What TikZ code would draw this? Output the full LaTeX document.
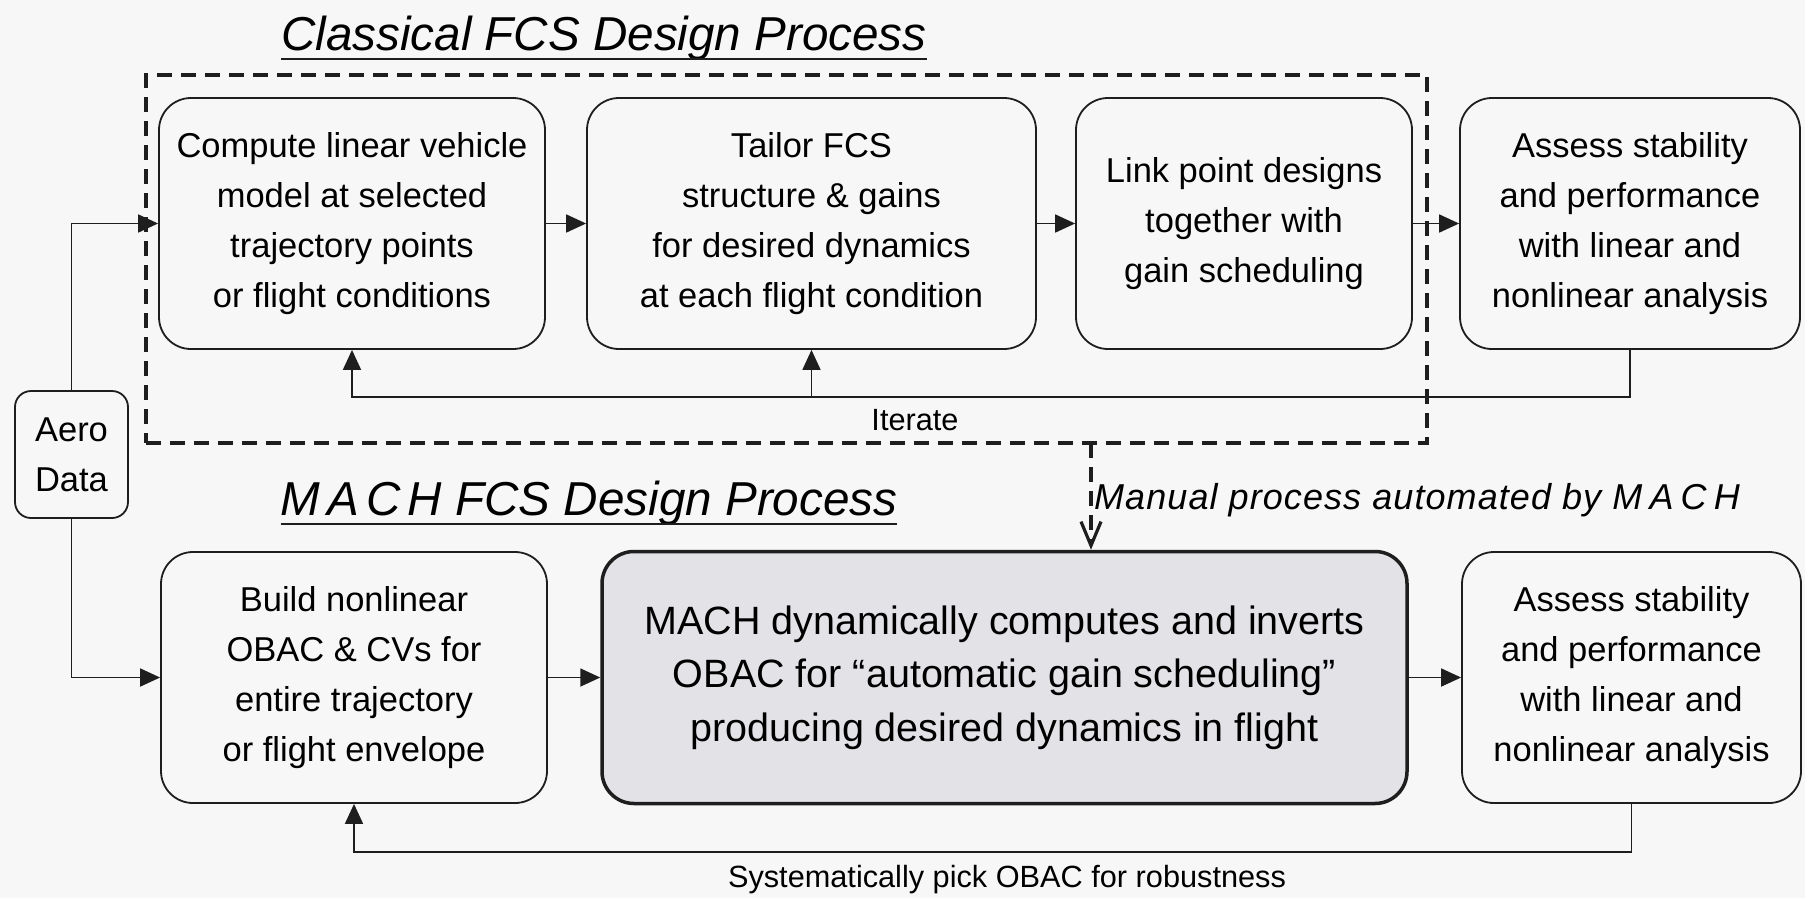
\documentclass[tikz,border=0pt]{standalone}
\usepackage{fontspec}
\setmainfont{Liberation Sans}
\usetikzlibrary{arrows.meta,positioning}
\definecolor{paper}{HTML}{F7F7F7}
\definecolor{machgray}{HTML}{E2E2E7}
\definecolor{ink}{HTML}{1E1E1E}
\tikzset{
  stage/.style={draw=ink, line width=1.8pt, rounded corners=32pt, align=center, inner sep=0pt,
    minimum height=251pt, font=\fontsize{34.5}{50}\selectfont},
  mach/.style={stage, fill=machgray, line width=3.5pt, font=\fontsize{39.5}{53.5}\selectfont},
  flow/.style={draw=ink, line width=1.8pt, -{Triangle[length=20pt,width=18pt]}},
  manual/.style={draw=ink, line width=3.2pt, dash pattern=on 15pt off 9pt},
  heading/.style={font=\itshape\fontsize{47.6}{56}\selectfont, inner sep=0pt, anchor=base},
  note/.style={font=\fontsize{30.7}{36}\selectfont, inner sep=0pt}
}
\begin{document}
\begin{tikzpicture}[x=1pt,y=-1pt]
  \fill[paper] (0,0) rectangle (1805,898);
  \useasboundingbox (0,0) rectangle (1805,898);
  % classical process
  \node[heading](classtitle) at (604,50) {Classical FCS Design Process};
  \draw[ink, line width=2.4pt] ([yshift=-9pt]classtitle.base west) -- ([yshift=-9pt]classtitle.base east);
  \node[manual, minimum width=1281pt, minimum height=368pt, inner sep=0pt](classic) at (786.5,259) {};
  \node[stage, minimum width=386pt](linear) at (352,223.5) {Compute linear vehicle\\model at selected\\trajectory points\\or flight conditions};
  \node[stage, minimum width=449pt](tailor) at (811.5,223.5) {Tailor FCS\\structure \& gains\\for desired dynamics\\at each flight condition};
  \node[stage, minimum width=336pt](link) at (1244,223.5) {Link point designs\\together with\\gain scheduling};
  \node[stage, minimum width=340pt](assess) at (1630,223.5) {Assess stability\\and performance\\with linear and\\nonlinear analysis};
  \draw[flow] (linear) -- (tailor);
  \draw[flow] (tailor) -- (link);
  \draw[flow] (link) -- (assess);
  \coordinate (iterate) at (1630,397);
  \draw[flow] (assess.south) -- (iterate) -| (linear.south);
  \draw[flow] (iterate -| tailor.south) -- (tailor.south);
  \node[note](iteratelabel) at (915,420) {Iterate};
  % aero data
  \node[stage, minimum width=113pt, minimum height=127pt, rounded corners=16pt](aero) at (71.5,454.5) {Aero\\Data};
  % MACH process
  \node[heading](machtitle) at (589,515) {{\addfontfeature{LetterSpace=15}MACH} FCS Design Process};
  \draw[ink, line width=2.4pt] ([yshift=-9pt]machtitle.base west) -- ([yshift=-9pt]machtitle.base east);
  \node[stage, minimum width=386pt](build) at (354,677.5) {Build nonlinear\\OBAC \& CVs for\\entire trajectory\\or flight envelope};
  \node[mach, minimum width=805pt, minimum height=252pt](compute) at (1004.5,677.5) {MACH dynamically computes and inverts\\OBAC for “automatic gain scheduling”\\producing desired dynamics in flight};
  \node[stage, minimum width=339pt](assessmach) at (1631.5,677.5) {Assess stability\\and performance\\with linear and\\nonlinear analysis};
  \draw[flow] (build) -- (compute);
  \draw[flow] (compute) -- (assessmach);
  \coordinate (robust) at (1631.5,852);
  \draw[flow] (assessmach.south) -- (robust) -| (build.south);
  \node[note](robustlabel) at (1007,880) {Systematically pick OBAC for robustness};
  \draw[flow] (aero.north) |- (linear.west);
  \draw[flow] (aero.south) |- (build.west);
  % hand-off to MACH
  \coordinate (handoff) at (1091,443);
  \draw[manual, -{Straight Barb[length=24pt,width=20pt]}] (handoff) -- (handoff |- compute.north);
  \node[font=\itshape\fontsize{36}{42}\selectfont\addfontfeature{LetterSpace=3}, anchor=base west, inner sep=0pt](manuallabel)
    at (1094,509) {Manual process automated by {\addfontfeature{LetterSpace=20}MACH}};
\end{tikzpicture}
\end{document}
